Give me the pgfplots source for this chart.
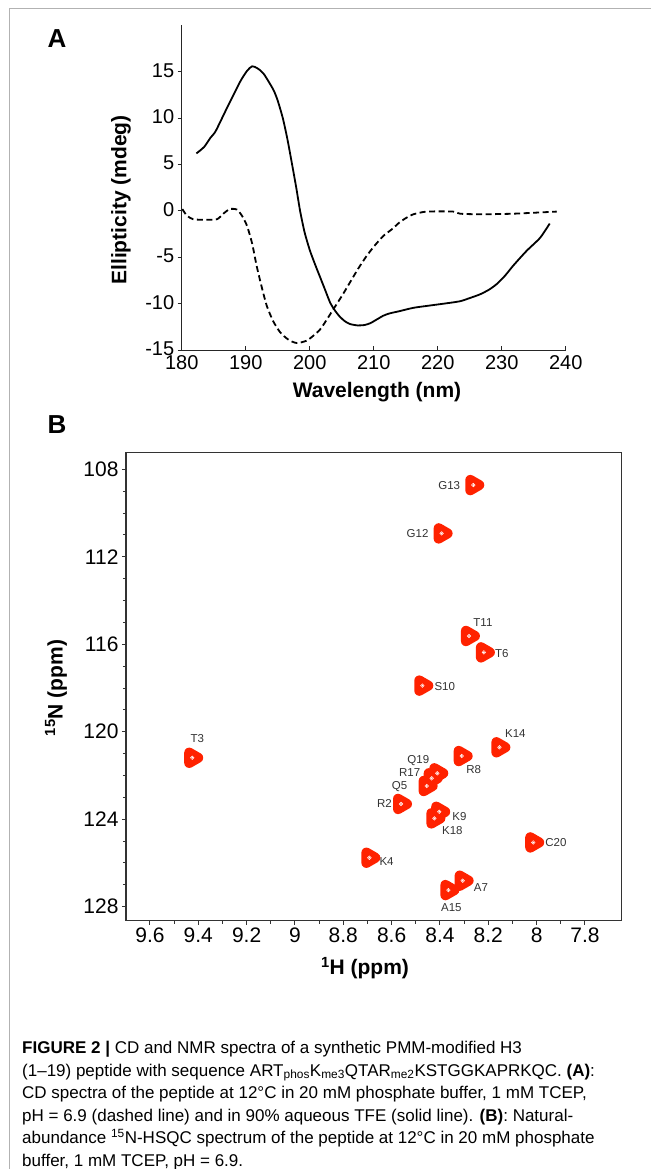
\documentclass[border=0pt]{standalone}
\usepackage{fontspec}
\setmainfont{Liberation Sans}
\usepackage{pgfplots}
\usepackage{pgfplotstable}
\pgfplotsset{compat=1.18}
\definecolor{peak}{HTML}{FF2200}

% HSQC peak list: 1H (ppm), 15N (ppm)
\pgfplotstableread{
h      n
8.262  108.72
8.393  110.93
8.280  115.62
8.218  116.37
8.473  117.89
9.425  121.19
8.154  120.71
8.310  121.11
8.411  121.90
8.434  122.13
8.455  122.48
8.561  123.30
8.403  123.66
8.423  123.96
8.014  125.06
8.692  125.76
8.306  126.81
8.365  127.24
}\peaks

\begin{document}
\begin{tikzpicture}
\path[use as bounding box] (0pt,0pt) rectangle (651pt,-1169pt);
\draw[gray!60, line width=1pt] (651pt,-9pt) -- (9pt,-9pt) -- (9pt,-1169pt);

\node[font=\fontsize{26}{30}\selectfont\bfseries] at (57pt,-39pt) {A};
\node[font=\fontsize{26}{30}\selectfont\bfseries] at (57pt,-425pt) {B};

% ---- panel A: CD spectra
\begin{axis}[
  at={(373.7pt,-187.75pt)}, anchor=center,
  scale only axis, width=384pt, height=324.5pt,
  xmin=180, xmax=240, ymin=-15, ymax=20,
  axis x line=bottom, axis y line=left,
  axis line style={-, black!85, line width=1pt},
  xtick={180,190,...,240}, ytick={-15,-10,...,15},
  xtick align=inside, ytick align=outside,
  major tick length=4pt,
  tick style={black!85, line width=1pt},
  tick label style={font=\fontsize{20}{24}\selectfont},
  xticklabel style={yshift=-2pt},
  yticklabel style={yshift=1.5pt},
  /pgf/number format/assume math mode=true,
  clip=false,
]
  % 90% TFE (solid)
  \addplot[black, line width=1.8pt, smooth, tension=0.4] coordinates {
    (182.3,6.2) (183.5,6.9) (184.5,7.9) (185.3,8.6) (187.0,11.0) (189.1,13.9)
    (190.2,15.1) (191.0,15.6) (191.8,15.4) (192.8,14.8) (194.3,13.1) (195.0,11.9)
    (195.8,10.0) (196.5,7.8) (197.2,5.2) (197.9,2.5) (198.5,0.0) (199.2,-2.3)
    (200.0,-4.2) (200.8,-5.7) (201.6,-7.1) (202.4,-8.5) (203.2,-9.9) (204.0,-10.8)
    (204.7,-11.4) (205.5,-11.9) (206.3,-12.2) (207.5,-12.35) (208.6,-12.3)
    (209.5,-12.1) (210.5,-11.7) (211.5,-11.3) (212.5,-11.05) (214.1,-10.8)
    (216.2,-10.45) (218.8,-10.2) (221.4,-9.96) (223.5,-9.74) (225.0,-9.4)
    (226.6,-9.0) (228.0,-8.5) (229.2,-7.9) (230.5,-7.0) (231.8,-5.9)
    (233.9,-4.3) (236.0,-2.9) (237.5,-1.36)
  };
  % phosphate buffer (dashed)
  \addplot[black, line width=1.8pt, dash pattern=on 6pt off 3.5pt, smooth, tension=0.4] coordinates {
    (180.1,0.2) (180.8,-0.5) (181.8,-0.9) (183.5,-0.95) (185.5,-0.9) (186.5,-0.3)
    (187.5,0.2) (188.6,0.15) (189.4,-0.5) (190.2,-1.6) (191.0,-3.5) (191.7,-5.9)
    (192.5,-8.2) (193.3,-10.25) (194.3,-11.9) (195.4,-13.1) (196.7,-13.9)
    (198.0,-14.25) (199.5,-14.0) (200.5,-13.5) (201.6,-12.8) (202.6,-11.8)
    (203.7,-10.6) (205.0,-9.2) (206.3,-7.7) (207.6,-6.2) (208.9,-4.85)
    (210.2,-3.7) (211.5,-2.7) (212.8,-2.0) (214.1,-1.2) (215.2,-0.7)
    (216.2,-0.36) (218.3,-0.07) (222.4,-0.07) (223.5,-0.3) (226.6,-0.36)
    (231.8,-0.3) (238.6,-0.07)
  };
\end{axis}
\node[font=\fontsize{21}{25}\selectfont\bfseries] at (377pt,-392pt) {Wavelength (nm)};
\node[font=\fontsize{21}{25}\selectfont\bfseries, rotate=90] at (121pt,-200pt) {Ellipticity (mdeg)};

% ---- panel B: 15N-HSQC
\begin{axis}[
  at={(373.85pt,-686.7pt)}, anchor=center,
  scale only axis, width=495.7pt, height=468pt,
  x dir=reverse, y dir=reverse,
  xmin=7.648, xmax=9.699, ymin=107.24, ymax=128.64,
  xtick={7.8,8.0,8.2,8.4,8.6,8.8,9.0,9.2,9.4,9.6},
  ytick={108,112,116,120,124,128},
  minor x tick num=1, minor y tick num=3,
  tick align=outside, tick pos=left,
  major tick length=4pt, minor tick length=3pt,
  axis line style={black!80, line width=1.2pt},
  tick style={black!80, line width=1pt},
  tick label style={font=\fontsize{21}{25}\selectfont},
  /pgf/number format/assume math mode=true,
  clip=false,
]
  \addplot[only marks, mark=triangle*, mark size=6pt, color=peak,
           mark options={rotate=-90, line width=10pt, line join=round, fill=peak, draw=peak}]
    table[x=h, y=n] {\peaks};
  \addplot[only marks, mark=o, mark size=1.8pt, white, mark options={line width=0.5pt}]
    table[x=h, y=n] {\peaks};
  \addplot[only marks, mark=*, mark size=0.6pt, white]
    table[x=h, y=n] {\peaks};

  \begin{scope}[every node/.style={font=\fontsize{11.5}{13}\selectfont, text=black!80, inner sep=0pt}]
  \node[anchor=east] at (axis cs:8.262,108.72) [xshift=-13pt] {G13};
  \node[anchor=east] at (axis cs:8.393,110.93) [xshift=-13pt] {G12};
  \node at (axis cs:8.280,115.62) [xshift=14pt, yshift=13pt] {T11};
  \node[anchor=west] at (axis cs:8.218,116.37) [xshift=11pt, yshift=-1pt] {T6};
  \node[anchor=west] at (axis cs:8.473,117.89) [xshift=12pt, yshift=-1pt] {S10};
  \node at (axis cs:9.425,121.19) [xshift=5pt, yshift=19pt] {T3};
  \node at (axis cs:8.154,120.71) [xshift=16pt, yshift=14pt] {K14};
  \node at (axis cs:8.310,121.11) [xshift=12pt, yshift=-14pt] {R8};
  \node at (axis cs:8.411,121.90) [xshift=-19pt, yshift=13pt] {Q19};
  \node at (axis cs:8.434,122.13) [xshift=-22pt, yshift=5.5pt] {R17};
  \node at (axis cs:8.455,122.48) [xshift=-27pt, yshift=-0.5pt] {Q5};
  \node[anchor=east] at (axis cs:8.561,123.30) [xshift=-9pt] {R2};
  \node[anchor=west] at (axis cs:8.403,123.66) [xshift=13pt, yshift=-5pt] {K9};
  \node at (axis cs:8.423,123.96) [xshift=18pt, yshift=-12pt] {K18};
  \node[anchor=west] at (axis cs:8.014,125.06) [xshift=12pt] {C20};
  \node[anchor=west] at (axis cs:8.692,125.76) [xshift=10pt, yshift=-4pt] {K4};
  \node[anchor=west] at (axis cs:8.306,126.81) [xshift=11pt, yshift=-7pt] {A7};
  \node at (axis cs:8.365,127.24) [xshift=3pt, yshift=-17pt] {A15};
  \end{scope}
\end{axis}
\node[font=\fontsize{21}{25}\selectfont\bfseries] at (365pt,-968pt) {\textsuperscript{1}H (ppm)};
\node[font=\fontsize{21}{25}\selectfont\bfseries, rotate=90] at (56pt,-688pt) {\textsuperscript{15}N (ppm)};

% ---- caption
\node[anchor=north west, inner sep=0pt, align=left,
      font=\fontsize{17}{22.6}\selectfont] at (22pt,-1041pt) {%
  \textbf{FIGURE 2 \textbar} CD and NMR spectra of a synthetic PMM-modified H3\\
  (1–19) peptide with sequence ART\textsubscript{phos}K\textsubscript{me3}QTAR\textsubscript{me2}KSTGGKAPRKQC. \textbf{(A)}:\\
  CD spectra of the peptide at 12°C in 20 mM phosphate buffer, 1 mM TCEP,\\
  pH = 6.9 (dashed line) and in 90\% aqueous TFE (solid line). \textbf{(B)}: Natural-\\
  abundance \textsuperscript{15}N-HSQC spectrum of the peptide at 12°C in 20 mM phosphate\\
  buffer, 1 mM TCEP, pH = 6.9.};
\end{tikzpicture}
\end{document}
